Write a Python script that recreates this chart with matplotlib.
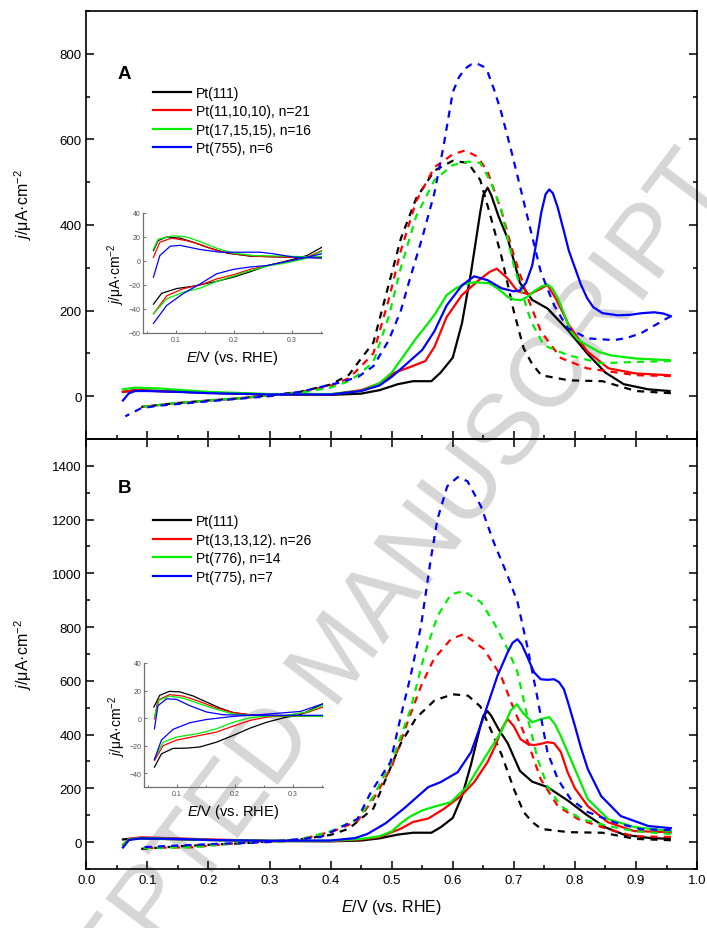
import matplotlib
matplotlib.use("Agg")
import matplotlib.pyplot as plt
from matplotlib.ticker import MultipleLocator

plt.rcParams["font.family"] = ["Liberation Sans", "DejaVu Sans"]
plt.rcParams["mathtext.fontset"] = "custom"
plt.rcParams["mathtext.rm"] = "Liberation Sans"
plt.rcParams["mathtext.it"] = "Liberation Sans:italic"

# ---- panel A / B main voltammograms (E in V vs RHE, j in uA cm-2) ----
# Pt(111) is the same in both panels
E_111_pos = [0.06, 0.08, 0.12, 0.2, 0.3, 0.4, 0.45, 0.48, 0.51, 0.535, 0.565, 0.58, 0.60, 0.615,
             0.63, 0.645, 0.65, 0.657, 0.663, 0.675, 0.69, 0.71, 0.73, 0.755, 0.79, 0.82, 0.85, 0.88, 0.92, 0.955]
j_111_pos = [10, 14, 12, 8, 4, 3, 6, 14, 28, 35, 35, 55, 90, 170,
             290, 430, 470, 487, 470, 420, 368, 265, 225, 205, 152, 100, 55, 28, 16, 12]
E_111_neg = [0.957, 0.90, 0.845, 0.79, 0.745, 0.73, 0.716, 0.70, 0.68, 0.66, 0.645, 0.625, 0.60, 0.57,
             0.54, 0.515, 0.495, 0.47, 0.45, 0.43, 0.40, 0.35, 0.30, 0.25, 0.20, 0.15, 0.09]
j_111_neg = [7, 12, 35, 37, 49, 75, 112, 198, 325, 430, 505, 545, 550, 527,
             462, 368, 260, 125, 88, 50, 27, 10, 2, -5, -10, -16, -25]

E_a_red_pos = [0.06, 0.08, 0.12, 0.2, 0.3, 0.4, 0.45, 0.48, 0.505, 0.53, 0.555, 0.57, 0.59, 0.615, 0.64,
               0.66, 0.672, 0.69, 0.706, 0.725, 0.74, 0.755, 0.77, 0.79, 0.82, 0.855, 0.9, 0.955]
j_a_red_pos = [10, 14, 12, 8, 4, 4, 14, 30, 55, 68, 82, 115, 185, 236, 268,
               290, 298, 275, 245, 238, 248, 260, 225, 166, 105, 65, 53, 49]
E_a_red_neg = [0.957, 0.9, 0.82, 0.777, 0.744, 0.723, 0.70, 0.68, 0.657, 0.64, 0.62, 0.60, 0.57, 0.54,
               0.515, 0.495, 0.47, 0.45, 0.43, 0.40, 0.35, 0.30, 0.25, 0.20, 0.15, 0.09]
j_a_red_neg = [47, 49, 65, 89, 152, 229, 329, 431, 525, 560, 574, 565, 535, 455,
               340, 225, 100, 70, 42, 24, 9, 2, -5, -10, -16, -25]

E_a_grn_pos = [0.06, 0.08, 0.12, 0.2, 0.3, 0.4, 0.45, 0.48, 0.50, 0.52, 0.54, 0.555, 0.57, 0.59, 0.605,
               0.62, 0.635, 0.66, 0.675, 0.69, 0.70, 0.711, 0.722, 0.733, 0.745, 0.755, 0.763, 0.772,
               0.783, 0.793, 0.805, 0.82, 0.84, 0.86, 0.9, 0.955]
j_a_grn_pos = [16, 20, 18, 10, 5, 5, 12, 30, 55, 95, 135, 162, 190, 236, 252,
               262, 266, 264, 250, 232, 226, 224, 232, 245, 256, 261, 252, 229,
               190, 152, 132, 119, 103, 95, 88, 84]
E_a_grn_neg = [0.957, 0.90, 0.843, 0.788, 0.749, 0.728, 0.70, 0.679, 0.662, 0.645, 0.625, 0.60, 0.57,
               0.54, 0.515, 0.495, 0.47, 0.45, 0.43, 0.40, 0.35, 0.30, 0.25, 0.20, 0.15, 0.09]
j_a_grn_neg = [82, 80, 77, 96, 119, 175, 305, 438, 501, 545, 548, 540, 505,
               420, 300, 185, 80, 55, 35, 20, 8, 2, -5, -10, -16, -25]

E_a_blu_pos = [0.06, 0.07, 0.08, 0.1, 0.15, 0.2, 0.3, 0.4, 0.45, 0.48, 0.50, 0.52, 0.55, 0.57, 0.59,
               0.615, 0.635, 0.657, 0.68, 0.70, 0.71, 0.72, 0.73, 0.737, 0.745, 0.752, 0.758, 0.764,
               0.772, 0.782, 0.79, 0.80, 0.81, 0.82, 0.83, 0.845, 0.87, 0.89, 0.91, 0.93, 0.945, 0.957]
j_a_blu_pos = [-10, 7, 12, 12, 10, 7, 4, 4, 12, 25, 45, 70, 108, 152, 212,
               259, 280, 271, 252, 245, 247, 265, 305, 360, 430, 472, 483, 474,
               440, 385, 340, 300, 260, 229, 208, 194, 189, 190, 194, 196, 193, 187]
E_a_blu_neg = [0.957, 0.93, 0.908, 0.885, 0.864, 0.821, 0.788, 0.766, 0.744, 0.728, 0.711, 0.695,
               0.679, 0.668, 0.657, 0.65, 0.64, 0.63, 0.62, 0.61, 0.60, 0.585, 0.57, 0.55, 0.53, 0.515,
               0.495, 0.47, 0.445, 0.415, 0.35, 0.30, 0.20, 0.12, 0.09, 0.064]
j_a_blu_neg = [187, 165, 147, 136, 131, 135, 159, 212, 291, 385, 485, 578,
               665, 715, 758, 770, 777, 775, 765, 745, 710, 585, 475, 370, 275, 200,
               130, 70, 45, 32, 10, 0, -12, -22, -28, -47]

E_b_red_pos = [0.06, 0.07, 0.09, 0.15, 0.2, 0.3, 0.4, 0.45, 0.48, 0.515, 0.535, 0.56, 0.585, 0.613,
               0.635, 0.657, 0.67, 0.68, 0.69, 0.70, 0.711, 0.723, 0.733, 0.745, 0.755, 0.766, 0.777,
               0.788, 0.80, 0.821, 0.854, 0.897, 0.957]
j_b_red_pos = [-10, 12, 18, 14, 10, 5, 4, 10, 19, 50, 75, 88, 123, 171,
               223, 298, 360, 420, 458, 431, 383, 365, 361, 366, 372, 368, 335,
               260, 200, 134, 74, 41, 37]
E_b_red_neg = [0.957, 0.897, 0.854, 0.805, 0.772, 0.744, 0.723, 0.70, 0.679, 0.651, 0.618, 0.597,
               0.569, 0.548, 0.526, 0.50, 0.47, 0.444, 0.405, 0.34, 0.264, 0.175, 0.089]
j_b_red_neg = [19, 22, 48, 86, 134, 234, 372, 495, 618, 718, 774, 755,
               681, 580, 446, 280, 160, 78, 41, 4, 0, -19, -22]

E_b_grn_pos = [0.06, 0.07, 0.09, 0.15, 0.2, 0.3, 0.4, 0.45, 0.48, 0.50, 0.515, 0.53, 0.55, 0.57,
               0.597, 0.624, 0.651, 0.679, 0.695, 0.705, 0.715, 0.73, 0.745, 0.758, 0.767, 0.777, 0.80,
               0.821, 0.854, 0.897, 0.957]
j_b_grn_pos = [-10, 10, 15, 12, 8, 5, 5, 12, 22, 40, 70, 95, 118, 132,
               149, 208, 309, 409, 490, 513, 480, 446, 458, 465, 440, 394, 272,
               160, 86, 56, 41]
E_b_grn_neg = [0.957, 0.897, 0.854, 0.81, 0.777, 0.755, 0.739, 0.723, 0.706, 0.69, 0.667, 0.646,
               0.618, 0.597, 0.575, 0.553, 0.531, 0.50, 0.47, 0.444, 0.40, 0.34, 0.26, 0.175, 0.089]
j_b_grn_neg = [30, 41, 60, 86, 134, 208, 309, 458, 632, 718, 818, 893,
               934, 922, 841, 692, 495, 300, 170, 85, 40, 4, 0, -19, -22]

E_b_blu_pos = [0.06, 0.07, 0.09, 0.15, 0.2, 0.3, 0.4, 0.44, 0.46, 0.49, 0.52, 0.54, 0.56, 0.58,
               0.608, 0.63, 0.651, 0.673, 0.69, 0.698, 0.706, 0.713, 0.72, 0.733, 0.744, 0.755, 0.766,
               0.774, 0.782, 0.79, 0.80, 0.81, 0.821, 0.843, 0.875, 0.92, 0.957]
j_b_blu_pos = [-20, 8, 14, 12, 8, 5, 6, 15, 30, 70, 125, 165, 205, 223,
               260, 335, 469, 618, 707, 742, 755, 735, 700, 632, 606, 604, 606,
               595, 569, 510, 432, 350, 272, 171, 97, 60, 52]
E_b_blu_neg = [0.957, 0.908, 0.864, 0.821, 0.793, 0.772, 0.755, 0.739, 0.723, 0.706, 0.69, 0.667,
               0.646, 0.624, 0.608, 0.591, 0.575, 0.564, 0.548, 0.531, 0.515, 0.498, 0.466, 0.444,
               0.384, 0.297, 0.208, 0.089]
j_b_blu_neg = [45, 48, 74, 112, 160, 234, 335, 532, 718, 893, 990, 1116,
               1250, 1343, 1358, 1324, 1202, 1053, 804, 618, 469, 298, 186, 86,
               19, 0, -7, -19]

# ---- insets: hydrogen region blank CVs ----
ia_E_up = [
    [0.061, 0.069, 0.084, 0.107, 0.13, 0.153, 0.188, 0.228, 0.286, 0.352],
    [0.061, 0.072, 0.092, 0.118, 0.142, 0.17, 0.199, 0.234, 0.286, 0.352],
    [0.061, 0.069, 0.095, 0.118, 0.142, 0.17, 0.199, 0.234, 0.286, 0.352],
    [0.061, 0.072, 0.09, 0.107, 0.142, 0.176, 0.211, 0.245, 0.268, 0.303, 0.352],
]
ia_j_up = [
    [8.7, 17, 20, 19, 15.6, 11.5, 6.5, 4, 3.2, 3.2],
    [3, 15.6, 19, 17, 13.7, 8.7, 6, 4, 3.2, 2.6],
    [10, 18, 21, 20, 16, 10.6, 6.5, 4.5, 4, 3.2],
    [-13.5, 4.5, 12.3, 13, 9.5, 7.3, 7.3, 7.3, 6, 3.2, 2.3],
]
ia_E_down = [
    [0.061, 0.075, 0.101, 0.13, 0.17, 0.199, 0.228, 0.257, 0.291, 0.326, 0.352],
    [0.061, 0.084, 0.113, 0.142, 0.17, 0.199, 0.228, 0.257, 0.291, 0.326, 0.352],
    [0.061, 0.084, 0.113, 0.142, 0.17, 0.199, 0.228, 0.257, 0.291, 0.326, 0.352],
    [0.061, 0.084, 0.113, 0.142, 0.17, 0.199, 0.228, 0.257, 0.286, 0.314, 0.352],
]
ia_j_down = [
    [-36, -27, -23, -21, -17, -13.5, -9, -4, 0, 4.5, 11.5],
    [-44, -29, -23, -20, -15, -11.5, -7, -4, -0.4, 3, 8.7],
    [-44, -31.5, -26, -22.6, -17, -12.6, -8, -4.3, -1.5, 2.3, 8],
    [-52, -37, -27, -19, -10.7, -7, -5, -3.8, -1, 1.8, 6],
]

ib_E_up = [
    [0.06, 0.07, 0.087, 0.105, 0.128, 0.151, 0.174, 0.197, 0.226, 0.266, 0.313, 0.352],
    [0.061, 0.067, 0.087, 0.11, 0.139, 0.168, 0.197, 0.226, 0.313, 0.352],
    [0.061, 0.069, 0.087, 0.11, 0.139, 0.168, 0.197, 0.226, 0.352],
    [0.061, 0.067, 0.082, 0.099, 0.122, 0.151, 0.18, 0.226, 0.313, 0.352],
]
ib_j_up = [
    [8, 16.5, 19.4, 19, 16, 11.6, 7.3, 4, 2.4, 1.5, 1.5, 1.5],
    [-0.5, 13, 17, 16, 12, 7.3, 4, 2.4, 1.5, 1.2],
    [0.7, 13, 16, 14.5, 10.4, 6.3, 3, 2, 1.2],
    [-7.8, 9, 14, 13.6, 9, 4.4, 2.4, 2, 2, 2],
]
ib_E_down = [
    [0.061, 0.073, 0.093, 0.116, 0.139, 0.168, 0.197, 0.226, 0.255, 0.284, 0.313, 0.352],
    [0.061, 0.076, 0.099, 0.139, 0.168, 0.197, 0.226, 0.255, 0.29, 0.324, 0.352],
    [0.061, 0.076, 0.099, 0.139, 0.168, 0.197, 0.226, 0.255, 0.29, 0.324, 0.352],
    [0.061, 0.073, 0.093, 0.122, 0.151, 0.197, 0.255, 0.313, 0.352],
]
ib_j_down = [
    [-35.6, -26, -22, -21.8, -21, -17.5, -12.6, -7.3, -3, 0.2, 2.4, 10.4],
    [-30.8, -20, -16, -12.6, -10.2, -5.8, -1.7, 0.7, 2, 3.9, 8],
    [-29.6, -17.5, -13.8, -11, -7.8, -3, 0.2, 1.5, 2, 4.4, 9.2],
    [-30, -16, -8.2, -3.4, -1, 1.2, 2.9, 4.8, 10.4],
]

labels_a = ["Pt(111)", "Pt(11,10,10), n=21", "Pt(17,15,15), n=16", "Pt(755), n=6"]
labels_b = ["Pt(111)", "Pt(13,13,12). n=26", "Pt(776), n=14", "Pt(775), n=7"]
colors = ["black", "#ff0000", "#00ee00", "#0000ff"]

YLABEL = r"$\mathit{j}$/μA·cm$^{-2}$"
XLABEL = r"$\mathit{E}$/V (vs. RHE)"


def draw_main(ax, curves, labels, ylim, ymajor, show_xlabels, legend_y):
    handles = []
    for (e_pos, j_pos, e_neg, j_neg), color, label in zip(curves, colors, labels):
        h, = ax.plot(e_pos, j_pos, color=color, lw=1.6, label=label)
        ax.plot(e_neg, j_neg, color=color, lw=1.6, ls=(0, (3.2, 2.8)))
        handles.append(h)
    ax.set_facecolor("none")
    ax.set_xlim(0.0, 1.0)
    ax.set_ylim(*ylim)
    ax.xaxis.set_major_locator(MultipleLocator(0.1))
    ax.xaxis.set_minor_locator(MultipleLocator(0.05))
    ax.yaxis.set_major_locator(MultipleLocator(ymajor))
    ax.yaxis.set_minor_locator(MultipleLocator(ymajor / 2))
    ax.tick_params(which="both", direction="in", right=True, labelsize=9.5, width=1.1)
    ax.tick_params(which="major", length=5.5)
    ax.tick_params(which="minor", length=3)
    for s in ax.spines.values():
        s.set_linewidth(1.2)
    if not show_xlabels:
        ax.tick_params(labelbottom=False)
    else:
        ax.tick_params(top=True)
        ax.set_xlabel(XLABEL, fontsize=11.5, labelpad=8)
    ax.set_ylabel(YLABEL, fontsize=11.5, labelpad=6)
    ax.legend(handles=handles, loc="upper left", bbox_to_anchor=(0.11, legend_y),
              frameon=False, fontsize=10, handlelength=2.7, handletextpad=0.35,
              labelspacing=0.32, borderpad=0, borderaxespad=0)


def draw_inset(ax, E_up, j_up, E_down, j_down, ylim, yticks):
    for e1, j1, e2, j2, color in zip(E_up, j_up, E_down, j_down, colors):
        ax.plot(e1, j1, color=color, lw=0.9)
        ax.plot(e2, j2, color=color, lw=0.9)
    ax.set_facecolor("none")
    ax.set_xlim(0.043, 0.352)
    ax.set_ylim(*ylim)
    ax.set_xticks([0.1, 0.2, 0.3])
    ax.set_xticklabels(["0.1", "0.2", "0.3"])
    ax.xaxis.set_minor_locator(MultipleLocator(0.05))
    ax.set_yticks(yticks)
    ax.spines["top"].set_visible(False)
    ax.spines["right"].set_visible(False)
    for s in ("left", "bottom"):
        ax.spines[s].set_color("#707070")
        ax.spines[s].set_linewidth(0.9)
    ax.tick_params(which="both", direction="in", length=2, width=0.7, colors="#707070",
                   labelsize=5, labelcolor="#505050", pad=2)
    ax.tick_params(which="minor", length=1.2)
    ax.set_ylabel(YLABEL, fontsize=10, labelpad=1)
    ax.set_xlabel(XLABEL, fontsize=10.5, labelpad=4)


fig = plt.figure(figsize=(7.07, 9.29), dpi=100)
ax_a = fig.add_axes([0.122, 0.5264, 0.864, 0.4607])
ax_b = fig.add_axes([0.122, 0.0635, 0.864, 0.4629])

curves_a = [
    (E_111_pos, j_111_pos, E_111_neg, j_111_neg),
    (E_a_red_pos, j_a_red_pos, E_a_red_neg, j_a_red_neg),
    (E_a_grn_pos, j_a_grn_pos, E_a_grn_neg, j_a_grn_neg),
    (E_a_blu_pos, j_a_blu_pos, E_a_blu_neg, j_a_blu_neg),
]
curves_b = [
    (E_111_pos, j_111_pos, E_111_neg, j_111_neg),
    (E_b_red_pos, j_b_red_pos, E_b_red_neg, j_b_red_neg),
    (E_b_grn_pos, j_b_grn_pos, E_b_grn_neg, j_b_grn_neg),
    (E_b_blu_pos, j_b_blu_pos, E_b_blu_neg, j_b_blu_neg),
]
draw_main(ax_a, curves_a, labels_a, (-100, 900), 200, False, 0.825)
draw_main(ax_b, curves_b, labels_b, (-100, 1500), 200, True, 0.825)
ax_a.yaxis.set_label_coords(-0.085, 0.55)
ax_b.yaxis.set_label_coords(-0.085, 0.5)

ax_a.text(0.051, 0.853, "A", transform=ax_a.transAxes, fontsize=13.5, fontweight="bold", va="center")
ax_b.text(0.051, 0.888, "B", transform=ax_b.transAxes, fontsize=13.5, fontweight="bold", va="center")

in_a = fig.add_axes([0.2023, 0.6405, 0.2532, 0.1292])
draw_inset(in_a, ia_E_up, ia_j_up, ia_E_down, ia_j_down, (-60, 40), [-60, -40, -20, 0, 20, 40])
in_b = fig.add_axes([0.2037, 0.1518, 0.2532, 0.1335])
draw_inset(in_b, ib_E_up, ib_j_up, ib_E_down, ib_j_down, (-50, 40), [-40, -20, 0, 20, 40])

fig.text(0.48, 0.29, "ACCEPTED MANUSCRIPT", rotation=53, rotation_mode="anchor",
         ha="center", va="center", fontsize=72, color="#d6d6d6", zorder=-1)

fig.savefig("out.png", dpi=100)
